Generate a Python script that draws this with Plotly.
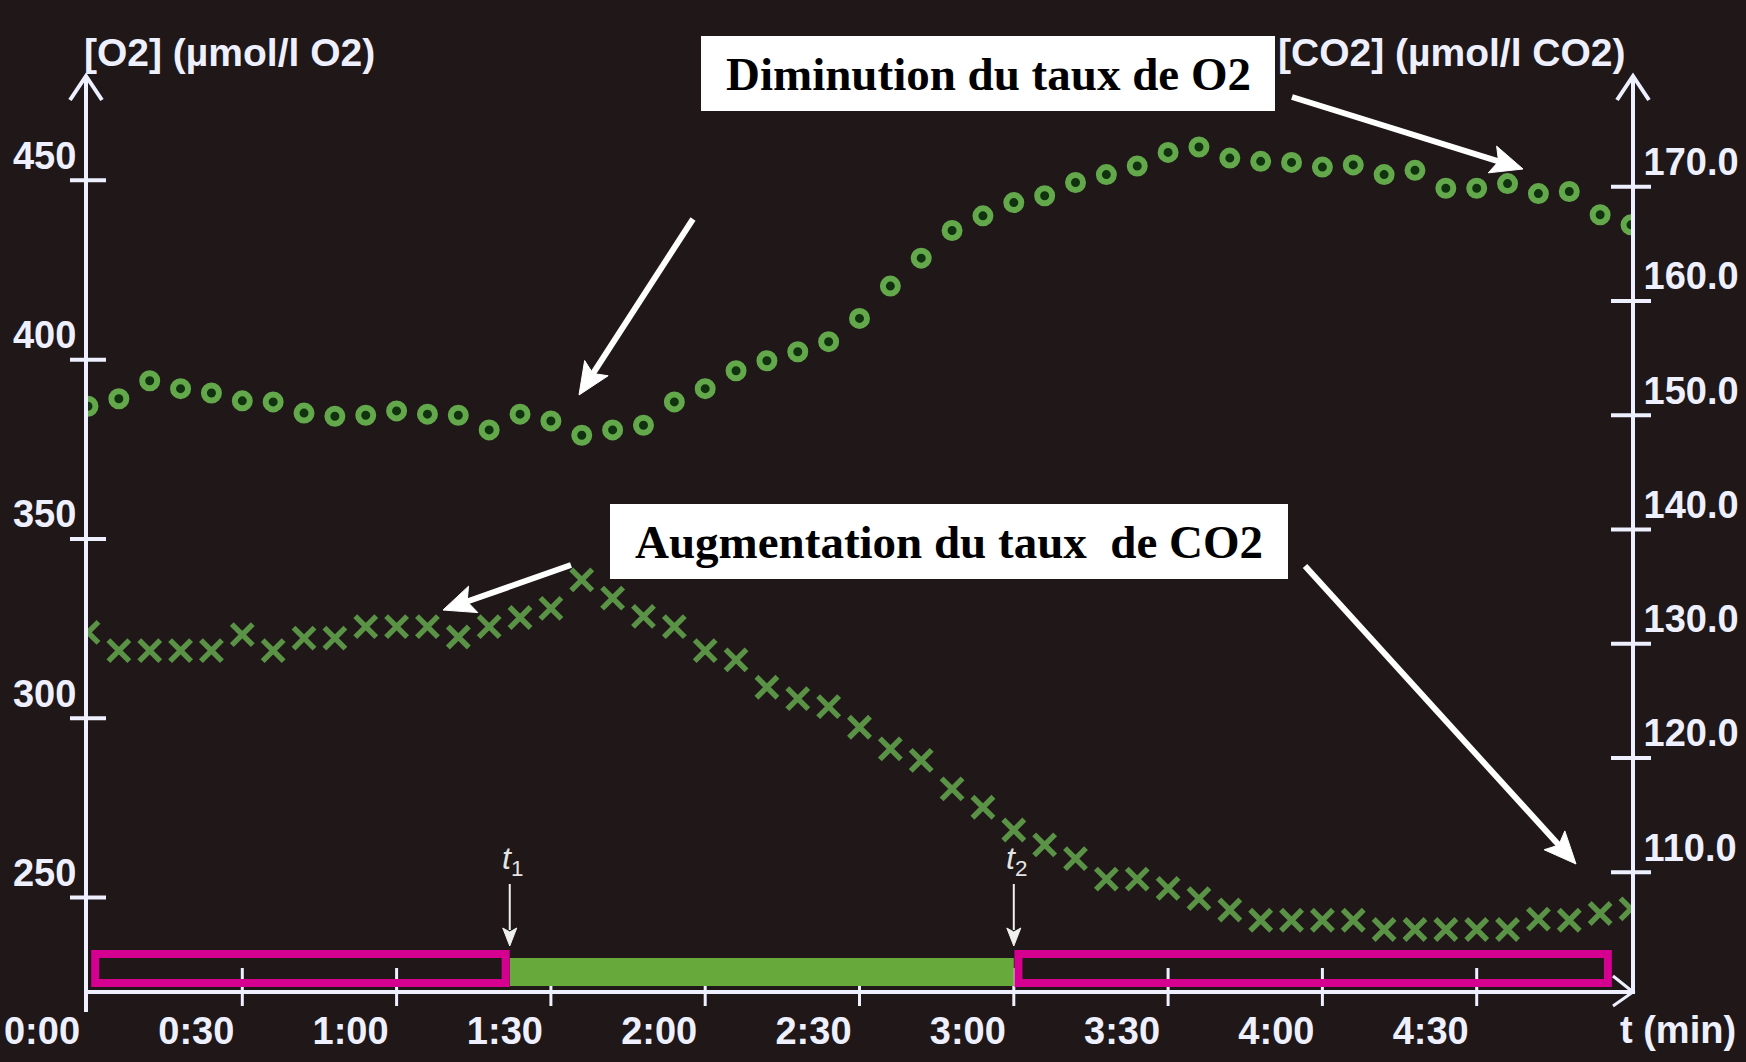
import plotly.graph_objects as go

# ---- measurements (sampling every 6 s over 5 min) ----
TIME_S = [0, 6, 12, 18, 24, 30, 36, 42, 48, 54, 60, 66, 72, 78, 84, 90, 96, 102,
          108, 114, 120, 126, 132, 138, 144, 150, 156, 162, 168, 174, 180, 186,
          192, 198, 204, 210, 216, 222, 228, 234, 240, 246, 252, 258, 264, 270,
          276, 282, 288, 294, 300]

O2_UMOL = [387.0, 389.1, 394.1, 391.9, 390.7, 388.5, 388.2, 385.1, 384.2, 384.5,
           385.7, 384.8, 384.5, 380.4, 384.8, 382.9, 378.9, 380.4, 381.7, 388.2,
           391.9, 396.9, 399.7, 402.2, 405.0, 411.5, 420.5, 428.3, 436.0, 440.1,
           443.8, 445.7, 449.4, 451.6, 454.0, 457.8, 459.3, 456.2, 455.3, 455.0,
           453.7, 454.3, 451.6, 452.8, 447.8, 447.8, 449.1, 446.3, 446.9, 440.4,
           437.6]

CO2_UMOL = [131.0, 129.4, 129.4, 129.4, 129.4, 130.8, 129.4, 130.5, 130.5, 131.5,
            131.5, 131.5, 130.6, 131.5, 132.3, 133.1, 135.6, 134.0, 132.4, 131.5,
            129.4, 128.6, 126.2, 125.2, 124.5, 122.7, 120.8, 119.8, 117.3, 115.7,
            113.7, 112.4, 111.2, 109.4, 109.4, 108.6, 107.7, 106.7, 105.8, 105.8,
            105.8, 105.8, 105.0, 105.0, 105.0, 105.0, 105.0, 105.9, 105.8, 106.4,
            106.8]

# light switched on at t1, off at t2 (seconds)
T1 = 82
T2 = 180
T_END = 300

O2_TICKS = [250, 300, 350, 400, 450]
O2_TICK_TEXT = ["250", "300", "350", "400", "450"]
CO2_TICKS = [110, 120, 130, 140, 150, 160, 170]
CO2_TICK_TEXT = ["110.0", "120.0", "130.0", "140.0", "150.0", "160.0", "170.0"]
TIME_TICKS = [0, 30, 60, 90, 120, 150, 180, 210, 240, 270]
TIME_TICK_TEXT = ["0:00", "0:30", "1:00", "1:30", "2:00", "2:30", "3:00",
                  "3:30", "4:00", "4:30"]

O2_TITLE = "[O2] (µmol/l O2)"
CO2_TITLE = "[CO2] (µmol/l CO2)"
TIME_TITLE = "t (min)"
NOTE_O2 = "Diminution du taux de O2"
NOTE_CO2 = "Augmentation du taux \u00a0de CO2"

# ---- page geometry ----
W, H = 1746, 1062
L, R, T, B = 88, 115, 76, 72
PW = W - L - R
PH = H - T - B
BOTTOM = H - B


def px(x):
    return (x - L) / PW


def py(y):
    return (BOTTOM - y) / PH


def arrow(hx, hy, tx, ty, width, head_len, head_half, color):
    """Straight arrow from tail (tx, ty) to head (hx, hy), page pixels."""
    dx, dy = hx - tx, hy - ty
    n = (dx * dx + dy * dy) ** 0.5
    ux, uy = dx / n, dy / n
    bx, by = hx - ux * head_len, hy - uy * head_len
    nx, ny = -uy, ux
    notch_x, notch_y = hx - ux * head_len * 0.8, hy - uy * head_len * 0.8
    line = dict(type="line", xref="paper", yref="paper",
                x0=px(tx), y0=py(ty), x1=px(notch_x), y1=py(notch_y),
                line=dict(color=color, width=width))
    head = dict(type="path", xref="paper", yref="paper",
                path=(f"M {px(hx)} {py(hy)} "
                      f"L {px(bx + nx * head_half)} {py(by + ny * head_half)} "
                      f"L {px(notch_x)} {py(notch_y)} "
                      f"L {px(bx - nx * head_half)} {py(by - ny * head_half)} Z"),
                fillcolor=color, line=dict(color=color, width=1))
    return [line, head]


BG = "#1f1718"
INK = "#eef0ff"
RING = "#63a94b"
RING_FILL = "#10320f"
CROSS = "#5a9246"
MAGENTA = "#d5008f"
LIGHT_GREEN = "#68a93b"
LABEL_FONT = "Liberation Sans, Arial, sans-serif"
NOTE_FONT = "Liberation Serif, Times New Roman, serif"

fig = go.Figure()

fig.add_trace(go.Scatter(
    x=TIME_S, y=O2_UMOL, mode="markers", name="O2",
    marker=dict(symbol="circle", size=15, color=RING_FILL,
                line=dict(color=RING, width=6)),
    yaxis="y", showlegend=False, hoverinfo="skip"))

fig.add_trace(go.Scatter(
    x=TIME_S, y=CO2_UMOL, mode="markers", name="CO2",
    marker=dict(symbol="x-thin", size=21, color=CROSS,
                line=dict(color=CROSS, width=5.5)),
    yaxis="y2", showlegend=False, hoverinfo="skip"))

tick_font = dict(family=LABEL_FONT, size=38, color=INK, weight="bold")

fig.update_layout(
    width=W, height=H,
    margin=dict(l=L, r=R, t=T, b=B, pad=0),
    paper_bgcolor=BG, plot_bgcolor=BG,
    xaxis=dict(range=[0, T_END], showgrid=False, zeroline=False, automargin=False,
               showline=True, linewidth=4, linecolor=INK,
               tickvals=TIME_TICKS, ticktext=TIME_TICK_TEXT, ticks="",
               tickfont=tick_font, ticklabelshift=-46, ticklabelstandoff=4,
               ticklabeloverflow="allow"),
    yaxis=dict(range=[224.2, 479.1], showgrid=False, zeroline=False, automargin=False,
               showline=True, linewidth=4, linecolor=INK,
               tickvals=O2_TICKS, ticktext=O2_TICK_TEXT, ticks="",
               tickfont=tick_font, ticklabelshift=-25, ticklabelstandoff=0,
               ticklabeloverflow="allow"),
    yaxis2=dict(range=[99.7, 179.7], overlaying="y", side="right", anchor="x",
                showgrid=False, zeroline=False, automargin=False,
                showline=True, linewidth=4, linecolor=INK,
                tickvals=CO2_TICKS, ticktext=CO2_TICK_TEXT, ticks="",
                tickfont=tick_font, ticklabelshift=-25, ticklabelstandoff=1,
                ticklabeloverflow="allow"),
)

shapes = []
# crossing tick marks on the two vertical axes
for v in O2_TICKS:
    shapes.append(dict(type="line", xref="paper", yref="y",
                       x0=px(L - 18), x1=px(L + 18), y0=v, y1=v,
                       line=dict(color=INK, width=4)))
for v in CO2_TICKS:
    shapes.append(dict(type="line", xref="paper", yref="y2",
                       x0=px(L + PW - 20), x1=px(L + PW + 20), y0=v, y1=v,
                       line=dict(color=INK, width=4)))
# time ticks crossing the time axis
for v in TIME_TICKS[1:]:
    shapes.append(dict(type="line", xref="x", yref="paper",
                       x0=v, x1=v, y0=py(BOTTOM + 16), y1=py(BOTTOM - 22),
                       line=dict(color=INK, width=3)))
# axis extension and arrow heads
shapes.append(dict(type="line", xref="paper", yref="paper", x0=px(L - 2), x1=px(L - 2),
                   y0=py(BOTTOM + 22), y1=0, line=dict(color=INK, width=4)))
for ax_x in (L - 2, L + PW + 2):
    shapes.append(dict(type="path", xref="paper", yref="paper",
                       path=f"M {px(ax_x - 16)} {py(T + 24)} L {px(ax_x)} {py(T)} "
                            f"L {px(ax_x + 16)} {py(T + 24)}",
                       line=dict(color=INK, width=4)))
shapes.append(dict(type="path", xref="paper", yref="paper",
                   path=f"M {px(L + PW - 18)} {py(BOTTOM - 14)} L {px(L + PW + 2)} {py(BOTTOM + 2)} "
                        f"L {px(L + PW - 18)} {py(BOTTOM + 16)}",
                   line=dict(color=INK, width=3)))

# dark / light / dark phase bar along the time axis
bar_top, bar_bot = py(BOTTOM - 36), py(BOTTOM - 7)
shapes.append(dict(type="rect", xref="x", yref="paper", x0=T1, x1=T2,
                   y0=py(BOTTOM - 4), y1=py(BOTTOM - 32),
                   fillcolor=LIGHT_GREEN, line=dict(width=0)))
shapes.append(dict(type="rect", xref="x", yref="paper", x0=1.4, x1=T1 - 0.8,
                   y0=bar_bot, y1=bar_top, line=dict(color=MAGENTA, width=8)))
shapes.append(dict(type="rect", xref="x", yref="paper", x0=T2 + 0.9, x1=T_END - 4.5,
                   y0=bar_bot, y1=bar_top, line=dict(color=MAGENTA, width=8)))

# white note boxes
shapes.append(dict(type="rect", xref="paper", yref="paper",
                   x0=px(701), x1=px(1275), y0=py(111), y1=py(36),
                   fillcolor="white", line=dict(width=0)))
shapes.append(dict(type="rect", xref="paper", yref="paper",
                   x0=px(610), x1=px(1288), y0=py(579), y1=py(504),
                   fillcolor="white", line=dict(width=0)))

# pointer arrows (head, tail) in page pixels
for hx, hy, tx, ty in [(579, 395, 693, 219), (1523, 169, 1292, 97),
                       (443, 610, 571, 565), (1576, 864, 1305, 566)]:
    shapes.extend(arrow(hx, hy, tx, ty, 6, 32, 14, "white"))

# t1 / t2 down arrows
xs_per_px = T_END / PW
for tv in (T1, T2):
    shapes.append(dict(type="line", xref="x", yref="paper", x0=tv, x1=tv,
                       y0=py(884), y1=py(930), line=dict(color="#f0f0f0", width=2)))
    shapes.append(dict(type="path", xref="x", yref="paper",
                       path=(f"M {tv} {py(946)} L {tv - 7 * xs_per_px} {py(928)} "
                             f"L {tv} {py(932)} L {tv + 7 * xs_per_px} {py(928)} Z"),
                       fillcolor="#f0f0f0", line=dict(color="#f0f0f0", width=1)))

fig.update_layout(shapes=shapes)

ann = []
title_font = dict(family=LABEL_FONT, size=39, color=INK, weight="bold")
ann.append(dict(text=O2_TITLE, xref="paper", yref="paper", x=px(82), y=py(53),
                xanchor="left", yanchor="middle", showarrow=False, font=title_font))
ann.append(dict(text=CO2_TITLE, xref="paper", yref="paper", x=px(1627), y=py(53),
                xanchor="right", yanchor="middle", showarrow=False, font=title_font))
ann.append(dict(text=TIME_TITLE, xref="paper", yref="paper", x=px(1618), y=py(1030),
                xanchor="left", yanchor="middle", showarrow=False,
                font=dict(family=LABEL_FONT, size=38, color=INK, weight="bold")))

note_font = dict(family=NOTE_FONT, size=47, color="black", weight="bold")
ann.append(dict(text=NOTE_O2, xref="paper", yref="paper", x=px(988), y=py(74),
                xanchor="center", yanchor="middle", showarrow=False, font=note_font))
ann.append(dict(text=NOTE_CO2, xref="paper", yref="paper", x=px(949), y=py(542),
                xanchor="center", yanchor="middle", showarrow=False, font=note_font))

# t1 / t2 labels
for tv, sub in [(T1, "1"), (T2, "2")]:
    ann.append(dict(text=f"<i>t</i><sub>{sub}</sub>", xref="x", yref="paper",
                    x=tv, y=py(860), xanchor="center", yanchor="middle",
                    xshift=3, showarrow=False,
                    font=dict(family="Liberation Sans, Arial, sans-serif", size=32,
                              color="#e4e4e4")))

fig.update_layout(annotations=ann)

fig.write_html("out.html")
